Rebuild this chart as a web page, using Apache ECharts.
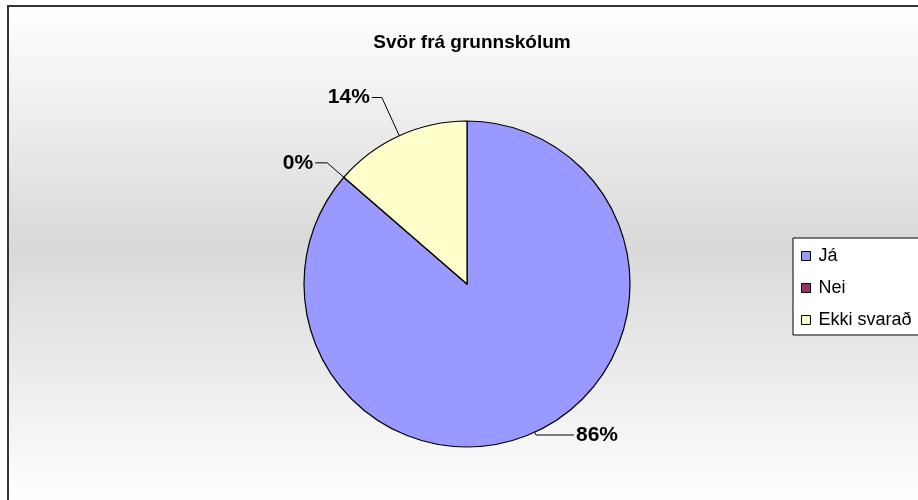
<!DOCTYPE html>
<html>
<head>
<meta charset="utf-8">
<script src="https://cdn.jsdelivr.net/npm/echarts@6/dist/echarts.min.js"></script>
<style>
  html, body { margin: 0; padding: 0; background: #fff; }
  #chart { width: 918px; height: 500px; }
</style>
</head>
<body>
<div id="chart"></div>
<script>
// svör (fjöldi) - lesið af myndinni: 86% / 0% / 14%
var categories = ['Já', 'Nei', 'Ekki svarað'];
var answers = [19, 0, 3];
var sliceColors = ['#9999FF', '#993366', '#FFFFCC'];
// leiðarlínur fyrir hvern merkimiða
var lineLength = [3, 22, 42];
var lineLength2 = [38, 12, 10];

var chart = echarts.init(document.getElementById('chart'));

var pieData = categories.map(function (name, i) {
  return {
    name: name,
    value: answers[i],
    itemStyle: { color: sliceColors[i] },
    labelLine: { length: lineLength[i], length2: lineLength2[i] }
  };
});

chart.setOption({
  animation: false,
  backgroundColor: '#fff',
  graphic: [
    {
      type: 'rect',
      z: -10,
      shape: { x: 8, y: 6, width: 920, height: 500 },
      style: {
        fill: new echarts.graphic.LinearGradient(0, 0, 0, 1, [
          { offset: 0, color: '#ffffff' },
          { offset: 0.48, color: '#d9d9d9' },
          { offset: 1, color: '#ffffff' }
        ])
      }
    },
    {
      type: 'polyline',
      z: 10,
      shape: { points: [[8, 501], [8, 6], [918, 6]] },
      style: { stroke: '#333', lineWidth: 2, fill: null }
    }
  ],
  title: {
    text: 'Svör frá grunnskólum',
    left: 467,
    top: 28,
    textAlign: 'center',
    textStyle: {
      fontFamily: 'Liberation Sans, Arial, sans-serif',
      fontSize: 19,
      fontWeight: 'bold',
      color: '#000'
    }
  },
  legend: {
    orient: 'vertical',
    left: 793,
    top: 238,
    data: categories,
    icon: 'rect',
    itemWidth: 9,
    itemHeight: 9,
    itemGap: 14,
    padding: [9, 60, 6, 8],
    backgroundColor: '#fff',
    borderColor: '#000',
    borderWidth: 1,
    borderRadius: 0,
    selectedMode: false,
    itemStyle: { borderColor: '#000', borderWidth: 1 },
    textStyle: {
      fontFamily: 'Liberation Sans, Arial, sans-serif',
      fontSize: 18,
      color: '#000',
      padding: [0, 0, 0, 3]
    }
  },
  series: [
    {
      type: 'pie',
      center: [467, 284],
      radius: 163,
      startAngle: 90,
      clockwise: true,
      avoidLabelOverlap: false,
      percentPrecision: 0,
      itemStyle: { borderColor: '#000', borderWidth: 1.2 },
      label: {
        show: true,
        position: 'outside',
        formatter: '{d}%',
        fontFamily: 'Liberation Sans, Arial, sans-serif',
        fontSize: 21,
        fontWeight: 'bold',
        color: '#000',
        distanceToLabelLine: 2
      },
      labelLine: {
        show: true,
        smooth: false,
        lineStyle: { color: '#000', width: 1 }
      },
      emphasis: { disabled: true },
      data: pieData
    }
  ]
});
</script>
</body>
</html>
